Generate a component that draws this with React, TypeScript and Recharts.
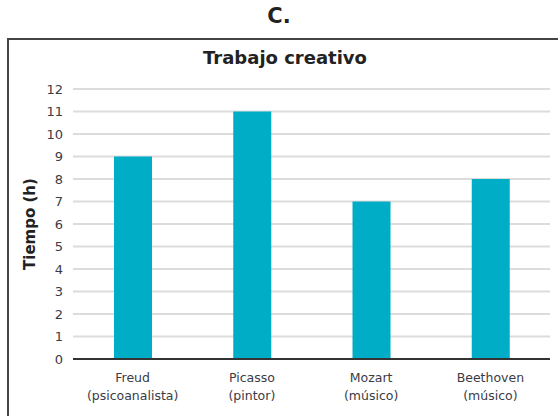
import { BarChart, Bar, XAxis, YAxis, CartesianGrid } from 'recharts'

const personas = ['Freud', 'Picasso', 'Mozart', 'Beethoven']
const oficios = ['(psicoanalista)', '(pintor)', '(músico)', '(músico)']
const horas = [9, 11, 7, 8]
const yTicks = [0, 1, 2, 3, 4, 5, 6, 7, 8, 9, 10, 11, 12]

const data = personas.map((p, i) => ({ name: p, sub: oficios[i], horas: horas[i] }))

const FONT = '"DejaVu Sans", Verdana, sans-serif'
const TEXT = '#3b3b45'

function TwoLineTick(props: any) {
  const { x, y, payload, index } = props
  return (
    <text x={x} y={y} textAnchor="middle" fontSize={12.5} fontFamily={FONT} fill={TEXT}>
      <tspan x={x} dy={15}>{payload.value}</tspan>
      <tspan x={x} dy={18}>{oficios[index]}</tspan>
    </text>
  )
}

export default function App() {
  return (
    <div style={{ position: 'absolute', left: 0, top: 0, width: 558, height: 416, background: '#fff', overflow: 'hidden', fontFamily: FONT }}>
      <div style={{ position: 'absolute', left: 0, top: 4, width: 558, textAlign: 'center', fontSize: 21, fontWeight: 'bold', color: '#222' }}>
        C.
      </div>
      <div style={{ position: 'absolute', left: 7, top: 38, width: 600, height: 400, border: '2px solid #444' }} />
      <div style={{ position: 'absolute', left: 0, top: 47, width: 570, textAlign: 'center', fontSize: 18, fontWeight: 'bold', color: '#222' }}>
        Trabajo creativo
      </div>
      <div style={{ position: 'absolute', left: 0, top: 0 }}>
        <BarChart width={558} height={416} data={data} margin={{ top: 89, right: 8, left: 0, bottom: 0 }} barSize={38}>
          <CartesianGrid vertical={false} stroke="#dcdcdc" strokeWidth={2} />
          <XAxis
            dataKey="name"
            tick={<TwoLineTick />}
            tickLine={false}
            axisLine={{ stroke: '#333', strokeWidth: 2 }}
            height={57}
            interval={0}
          />
          <YAxis
            domain={[0, 12]}
            ticks={yTicks}
            interval={0}
            width={73}
            tickLine={false}
            axisLine={false}
            tickMargin={4}
            tick={{ fontSize: 13, fontFamily: FONT, fill: TEXT }}
            label={{ value: 'Tiempo (h)', angle: -90, position: 'center', dx: -7, style: { fontSize: 15, fontWeight: 'bold', fontFamily: FONT, fill: '#222' } }}
          />
          <Bar dataKey="horas" fill="#00adc6" isAnimationActive={false} />
        </BarChart>
      </div>
    </div>
  )
}
